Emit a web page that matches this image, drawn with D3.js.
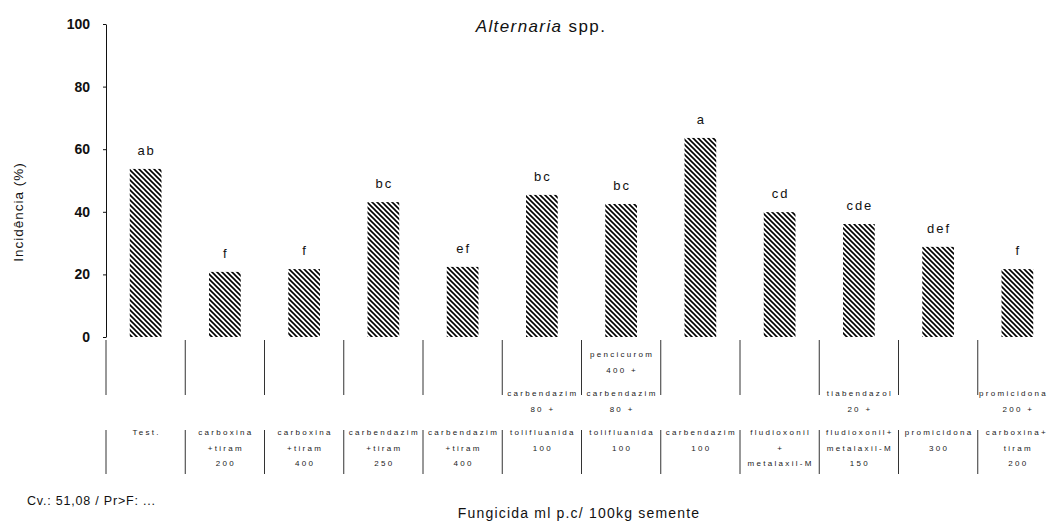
<!DOCTYPE html>
<html>
<head>
<meta charset="utf-8">
<script src="https://cdn.jsdelivr.net/npm/d3@7"></script>
<style>
    body { margin: 0; background: #fff; }
    svg { display: block; font-family: "Liberation Sans", Arial, sans-serif; }
</style>
</head>
<body>
<script>
// treatments (one per bar / table column)
var treatments = [
    "Test.",
    "carboxina+tiram 200",
    "carboxina+tiram 400",
    "carbendazim+tiram 250",
    "carbendazim+tiram 400",
    "carbendazim 80 + tolifluanida 100",
    "pencicurom 400 + carbendazim 80 + tolifluanida 100",
    "carbendazim 100",
    "fludioxonil+metalaxil-M",
    "tiabendazol 20 + fludioxonil+metalaxil-M 150",
    "promicidona 300",
    "promicidona 200 + carboxina+tiram 200"
];

// incidence (%)
var incidence = [53.7, 20.8, 21.7, 43.1, 22.4, 45.4, 42.5, 63.6, 39.9, 36.1, 28.8, 21.7];

// Tukey letters above bars
var letters = ["ab", "f", "f", "bc", "ef", "bc", "bc", "a", "cd", "cde", "def", "f"];

// table under the bars: groups of lines, last group sits on the main row
var tableLabels = [
    [["Test."]],
    [["carboxina", "+tiram", "200"]],
    [["carboxina", "+tiram", "400"]],
    [["carbendazim", "+tiram", "250"]],
    [["carbendazim", "+tiram", "400"]],
    [["carbendazim", "80 +"], ["tolifluanida", "100"]],
    [["pencicurom", "400 +"], ["carbendazim", "80 +"], ["tolifluanida", "100"]],
    [["carbendazim", "100"]],
    [["fludioxonil", "+", "metalaxil-M"]],
    [["tiabendazol", "20 +"], ["fludioxonil+", "metalaxil-M", "150"]],
    [["promicidona", "300"]],
    [["promicidona", "200 +"], ["carboxina+", "tiram", "200"]]
];

var yTicks = [0, 20, 40, 60, 80, 100];

var width = 1050,
    height = 521;

var svg = d3.select("body").append("svg")
    .attr("width", width)
    .attr("height", height);

// hatch pattern for bars
var pattern = svg.append("defs").append("pattern")
    .attr("id", "hatch")
    .attr("patternUnits", "userSpaceOnUse")
    .attr("width", 5)
    .attr("height", 5);
pattern.append("rect").attr("width", 5).attr("height", 5).attr("fill", "#fff");
pattern.append("path")
    .attr("d", "M0,0L5,5M-1,4L1,6M4,-1L6,1")
    .attr("stroke", "#000")
    .attr("stroke-width", 1.6);

// scales
var x = d3.scaleBand()
    .domain(treatments)
    .range([106, 1057])
    .paddingInner(0.6)
    .paddingOuter(0.3);

var y = d3.scaleLinear()
    .domain([0, 100])
    .range([337, 24]);

// y axis
var yAxis = svg.append("g")
    .attr("transform", "translate(106,0)")
    .call(d3.axisLeft(y).tickValues(yTicks).tickSizeInner(3).tickSizeOuter(0).tickPadding(13));
yAxis.select(".domain").attr("stroke", "#111");
yAxis.selectAll(".tick line").attr("stroke", "#111");
yAxis.selectAll(".tick text")
    .attr("font-size", 14)
    .attr("font-weight", "bold")
    .attr("fill", "#111")
    .attr("font-family", "Liberation Sans, Arial, sans-serif");

// y title
svg.append("text")
    .attr("transform", "translate(23," + 212 + ") rotate(-90)")
    .attr("text-anchor", "middle")
    .attr("font-size", 13.5)
    .attr("letter-spacing", 1)
    .attr("fill", "#111")
    .text("Incidência (%)");

// chart title
var title = svg.append("text")
    .attr("x", 541)
    .attr("y", 32)
    .attr("text-anchor", "middle")
    .attr("font-size", 17)
    .attr("letter-spacing", 1.4)
    .attr("fill", "#111");
title.append("tspan").attr("font-style", "italic").text("Alternaria");
title.append("tspan").text(" spp.");

// bars
svg.append("g").selectAll("rect")
    .data(treatments)
    .join("rect")
    .attr("x", function (d) { return x(d); })
    .attr("y", function (d, i) { return y(incidence[i]); })
    .attr("width", x.bandwidth())
    .attr("height", function (d, i) { return y(0) - y(incidence[i]); })
    .attr("fill", "url(#hatch)");

// letters above bars
svg.append("g").selectAll("text")
    .data(treatments)
    .join("text")
    .attr("x", function (d) { return x(d) + x.bandwidth() / 2 + 1; })
    .attr("y", function (d, i) { return y(incidence[i]) - 14; })
    .attr("text-anchor", "middle")
    .attr("font-size", 13)
    .attr("letter-spacing", 2)
    .attr("fill", "#111")
    .text(function (d, i) { return letters[i]; });

// table separators (broken lines like the scan)
var step = x.step();
svg.append("g").selectAll("line")
    .data(treatments)
    .join("line")
    .attr("x1", function (d) { return x(d) + x.bandwidth() / 2 - step / 2; })
    .attr("x2", function (d) { return x(d) + x.bandwidth() / 2 - step / 2; })
    .attr("y1", 340)
    .attr("y2", 474)
    .attr("stroke", "#333")
    .attr("stroke-width", 1)
    .attr("stroke-dasharray", "55,35,44,100");

// table text
var mainBase = 435,
    lineH = 15.5,
    groupH = 39;
var cols = svg.append("g")
    .attr("font-size", 8)
    .attr("letter-spacing", 2.3)
    .attr("fill", "#1a1a1a")
    .attr("text-anchor", "middle");

treatments.forEach(function (t, i) {
    var groups = tableLabels[i],
        cx = x(t) + x.bandwidth() / 2 + 1;
    groups.forEach(function (lines, g) {
        var top = mainBase - (groups.length - 1 - g) * groupH;
        lines.forEach(function (txt, k) {
            var label = cols.append("text")
                .attr("x", cx)
                .attr("y", top + k * lineH)
                .text(txt);
            // keep labels inside the right edge
            var box = label.node().getBBox();
            if (box.x + box.width > width - 2) {
                label.attr("x", cx - (box.x + box.width - (width - 2)));
            }
        });
    });
});

// footnote and x title
svg.append("text")
    .attr("x", 27)
    .attr("y", 505)
    .attr("font-size", 12.5)
    .attr("letter-spacing", 0.8)
    .attr("fill", "#111")
    .text("Cv.: 51,08 / Pr>F: ...");

svg.append("text")
    .attr("x", 579)
    .attr("y", 518)
    .attr("text-anchor", "middle")
    .attr("font-size", 14)
    .attr("letter-spacing", 1.2)
    .attr("fill", "#111")
    .text("Fungicida ml p.c/ 100kg semente");
</script>
</body>
</html>
